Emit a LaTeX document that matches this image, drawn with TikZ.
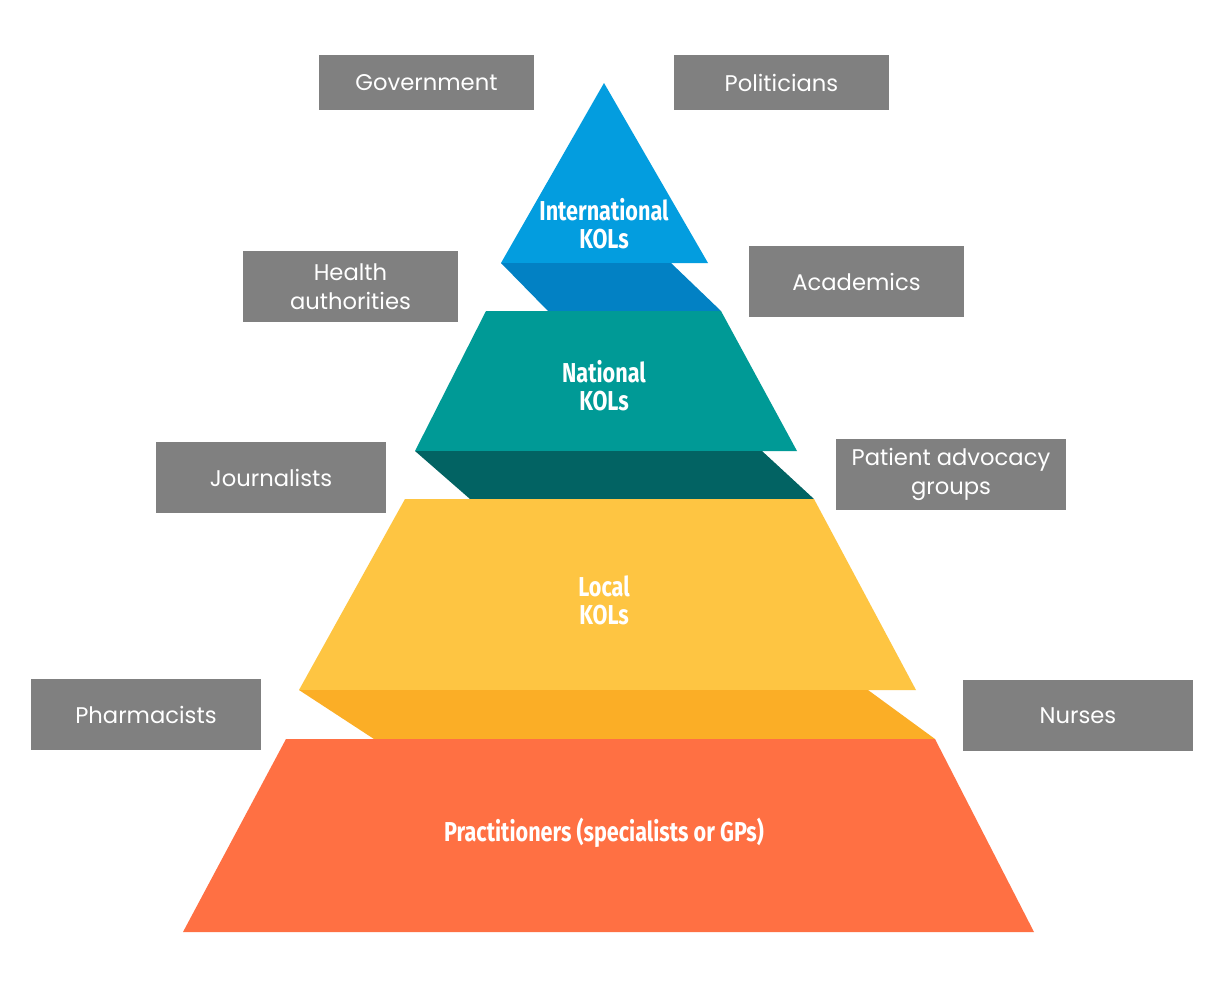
\documentclass[tikz,border=0pt]{standalone}
\usepackage{fontspec}
\setmainfont{Poppins}
\newfontfamily\condfont[FakeStretch=0.79]{Fira Sans}
\definecolor{boxgray}{HTML}{808080}
\definecolor{blueA}{HTML}{039DDF}
\definecolor{blueB}{HTML}{0281C4}
\definecolor{tealA}{HTML}{009A96}
\definecolor{tealB}{HTML}{026363}
\definecolor{yelA}{HTML}{FEC542}
\definecolor{yelB}{HTML}{FBAE26}
\definecolor{redA}{HTML}{FF7043}
\tikzset{
  graybox/.style={fill=boxgray, text=white, inner sep=0pt, align=center,
    font=\fontsize{17}{21.5}\selectfont},
  tierlabel/.style={text=white, align=center, inner sep=0pt,
    font=\condfont\bfseries\fontsize{20.5}{21}\selectfont}
}
\begin{document}
\begin{tikzpicture}[x=0.75pt,y=-0.75pt]
\useasboundingbox (0,0) rectangle (1225,1000);
\fill[white] (0,0) rectangle (1225,1000);
% pyramid tiers
\fill[blueA] (604,83) -- (708,263) -- (501,263) -- cycle;
\fill[blueB] (501,263) -- (671,263) -- (721,311) -- (548,311) -- cycle;
\fill[tealA] (486,311) -- (721,311) -- (797,451) -- (415,451) -- cycle;
\fill[tealB] (415,451) -- (762,451) -- (814,499) -- (470,499) -- cycle;
\fill[yelA] (405,499) -- (814,499) -- (916,690) -- (299,690) -- cycle;
\fill[yelB] (299,690) -- (868,690) -- (935,739) -- (374,739) -- cycle;
\fill[redA] (286,739) -- (935,739) -- (1034,932) -- (183,932) -- cycle;
% tier labels
\node[tierlabel] (intl) at (604,224) {International\\KOLs};
\node[tierlabel] (natl) at (604,386) {National\\KOLs};
\node[tierlabel] (locl) at (604,600) {Local\\KOLs};
\node[tierlabel] (prac) at (604,833) {Practitioners (specialists or GPs)};
% gray boxes
\node[graybox, minimum width=215*0.75pt, minimum height=55*0.75pt] (gov) at (426.5,82.5) {Government};
\node[graybox, minimum width=215*0.75pt, minimum height=55*0.75pt] (pol) at (781.5,82.5) {Politicians};
\node[graybox, minimum width=215*0.75pt, minimum height=71*0.75pt] (hea) at (350.5,286.5) {Health\\authorities};
\node[graybox, minimum width=215*0.75pt, minimum height=71*0.75pt] (aca) at (856.5,281.5) {Academics};
\node[graybox, minimum width=230*0.75pt, minimum height=71*0.75pt] (jou) at (271,477.5) {Journalists};
\node[graybox, minimum width=230*0.75pt, minimum height=71*0.75pt] (pat) at (951,474.5) {Patient advocacy\\groups};
\node[graybox, minimum width=230*0.75pt, minimum height=71*0.75pt] (pha) at (146,714.5) {Pharmacists};
\node[graybox, minimum width=230*0.75pt, minimum height=71*0.75pt] (nur) at (1078,715.5) {Nurses};
\end{tikzpicture}
\end{document}
